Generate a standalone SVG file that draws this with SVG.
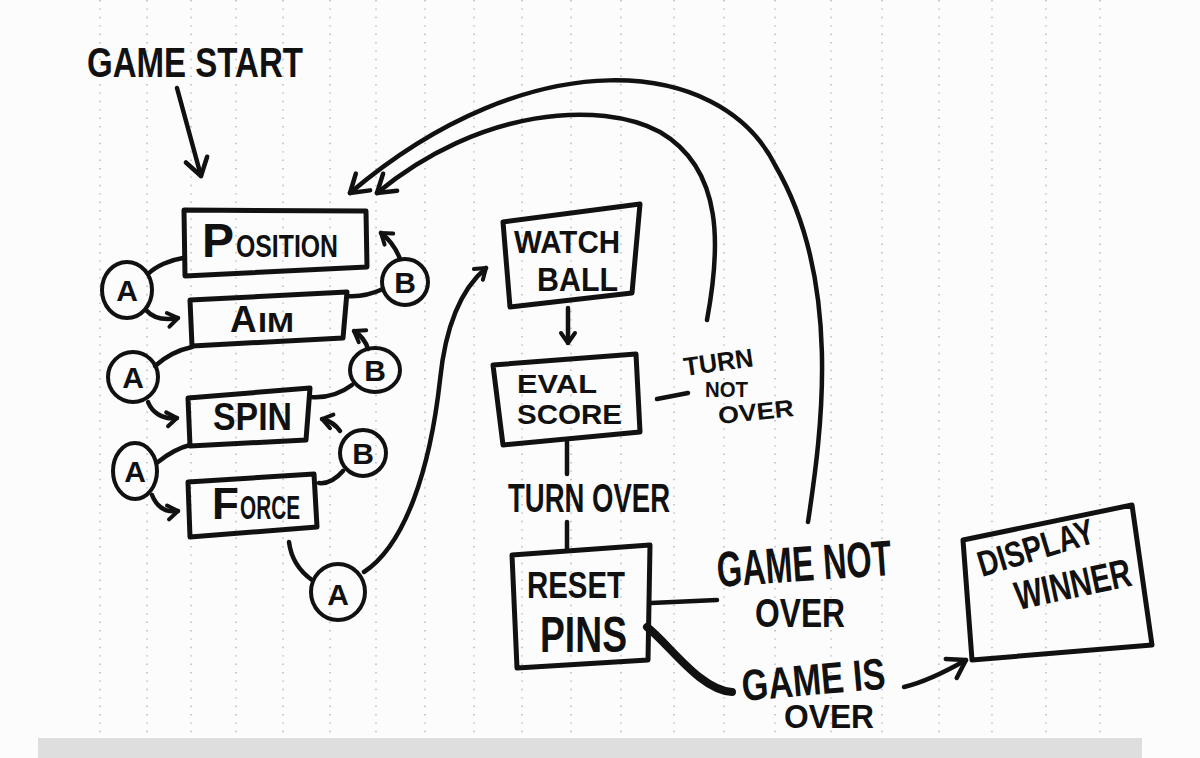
<svg xmlns="http://www.w3.org/2000/svg" width="1200" height="758" viewBox="0 0 1200 758">
<style>
.ln{fill:none;stroke:#111;stroke-width:4.5;stroke-linecap:round;stroke-linejoin:round}
.bx{fill:none;stroke:#111;stroke-width:5;stroke-linecap:round;stroke-linejoin:round}
.cc{fill:none;stroke:#111;stroke-width:4}
.t{font-family:"Liberation Sans",Arial,sans-serif;font-weight:bold;fill:#111}
.tc{font-family:"Liberation Sans",Arial,sans-serif;font-weight:bold;fill:#111;text-anchor:middle;font-size:30px}
.dot{stroke:#b5b5b5;stroke-width:1.4;stroke-dasharray:1.4 7}
</style>
<defs>
<marker id="big" markerUnits="userSpaceOnUse" viewBox="-20 -14 24 28" refX="0" refY="0" markerWidth="24" markerHeight="28" orient="auto">
<path d="M-17 -11 L0 0 L-17 11" fill="none" stroke="#111" stroke-width="4.5" stroke-linecap="round" stroke-linejoin="round"/>
</marker>
<marker id="sm" markerUnits="userSpaceOnUse" viewBox="-14 -10 18 20" refX="0" refY="0" markerWidth="18" markerHeight="20" orient="auto">
<path d="M-10 -7 L0 0 L-10 7" fill="none" stroke="#111" stroke-width="4" stroke-linecap="round" stroke-linejoin="round"/>
</marker>
</defs>
<rect width="1200" height="758" fill="#fcfcfc"/>
<g id="paper">
<line class="dot" x1="100" y1="0" x2="100" y2="738"/>
<line class="dot" x1="147" y1="0" x2="147" y2="738"/>
<line class="dot" x1="191" y1="0" x2="191" y2="738"/>
<line class="dot" x1="236" y1="0" x2="236" y2="738"/>
<line class="dot" x1="283" y1="0" x2="283" y2="738"/>
<line class="dot" x1="330" y1="0" x2="330" y2="738"/>
<line class="dot" x1="376" y1="0" x2="376" y2="738"/>
<line class="dot" x1="425" y1="0" x2="425" y2="738"/>
<line class="dot" x1="474" y1="0" x2="474" y2="738"/>
<line class="dot" x1="522" y1="0" x2="522" y2="738"/>
<line class="dot" x1="571" y1="0" x2="571" y2="738"/>
<line class="dot" x1="621" y1="0" x2="621" y2="738"/>
<line class="dot" x1="674" y1="0" x2="674" y2="738"/>
<line class="dot" x1="724" y1="0" x2="724" y2="738"/>
<line class="dot" x1="775" y1="0" x2="775" y2="738"/>
<line class="dot" x1="831" y1="0" x2="831" y2="738"/>
<line class="dot" x1="882" y1="0" x2="882" y2="738"/>
<line class="dot" x1="939" y1="0" x2="939" y2="738"/>
<line class="dot" x1="992" y1="0" x2="992" y2="738"/>
<line class="dot" x1="1046" y1="0" x2="1046" y2="738"/>
<line class="dot" x1="1100" y1="0" x2="1100" y2="738"/>
<rect x="38" y="738" width="1104" height="20" fill="#dedede"/>
</g>
<g id="connectors">
<path class="ln" d="M177 88 L201 176" marker-end="url(#big)"/>
<path class="ln" d="M183 258 C170 260 156 266 148 274"/>
<path class="ln" d="M146 310 C152 317 162 321 178 318" marker-end="url(#sm)"/>
<path class="ln" d="M347 296 C360 297 372 294 383 289"/>
<path class="ln" d="M400 259 C396 248 390 240 381 233" marker-end="url(#sm)"/>
<path class="ln" d="M192 347 C178 350 165 357 155 366"/>
<path class="ln" d="M148 402 C152 412 162 420 177 418" marker-end="url(#sm)"/>
<path class="ln" d="M311 397 C325 398 340 394 352 385"/>
<path class="ln" d="M368 349 C366 342 362 336 354 331" marker-end="url(#sm)"/>
<path class="ln" d="M190 445 C178 448 168 454 158 462"/>
<path class="ln" d="M152 495 C156 505 164 513 178 511" marker-end="url(#sm)"/>
<path class="ln" d="M319 483 C328 484 336 479 343 471"/>
<path class="ln" d="M340 431 C336 425 330 421 322 419" marker-end="url(#sm)"/>
<path class="ln" d="M289 542 C291 558 298 570 312 580"/>
<path class="ln" d="M364 572 C405 545 430 470 440 380 C445 330 460 290 486 268" marker-end="url(#sm)"/>
<path class="ln" d="M568 308 L568 343" marker-end="url(#sm)"/>
<path class="ln" d="M657 399 L688 393"/>
<path class="ln" d="M567 442 L567 474"/>
<path class="ln" d="M567 522 L567 549"/>
<path class="ln" d="M651 603 L717 600"/>
<path class="ln" d="M647 627 C670 645 700 690 732 692" style="stroke-width:8"/>
<path class="ln" d="M904 687 C925 682 945 672 966 660" marker-end="url(#big)"/>
<path class="ln" d="M707 320 C720 250 725 170 660 132 C600 100 480 108 377 193" marker-end="url(#big)"/>
<path class="ln" d="M808 522 C822 430 842 280 775 165 C720 55 530 40 350 193" marker-end="url(#big)"/>
</g>
<g id="game-start"><text class="t" x="87" y="77" font-size="42" textLength="216" lengthAdjust="spacingAndGlyphs">GAME START</text></g>
<g id="position">
<path class="bx" d="M184 210 L366 211 L367 267 L185 276 Z"/>
<text class="t" x="202" y="257" font-size="48">P</text>
<text class="t" x="236" y="257" font-size="31" textLength="102" lengthAdjust="spacingAndGlyphs">OSITION</text>
</g>
<g id="aim">
<path class="bx" d="M190 300 L347 292 L343 338 L192 346 Z"/>
<text class="t" x="230" y="332" font-size="37">A</text>
<text class="t" x="258" y="332" font-size="28" textLength="36" lengthAdjust="spacingAndGlyphs">IM</text>
</g>
<g id="spin">
<path class="bx" d="M188 398 L310 388 L306 440 L190 446 Z"/>
<text class="t" x="213" y="430" font-size="38" textLength="79" lengthAdjust="spacingAndGlyphs">SPIN</text>
</g>
<g id="force">
<path class="bx" d="M188 482 L314 474 L317 527 L190 537 Z"/>
<text class="t" x="212" y="519" font-size="44">F</text>
<text class="t" x="240" y="519" font-size="34" textLength="60" lengthAdjust="spacingAndGlyphs">ORCE</text>
</g>
<g id="a1"><ellipse class="cc" cx="127" cy="290" rx="25" ry="28"/><text class="tc" x="127" y="301">A</text></g>
<g id="b1"><ellipse class="cc" cx="405" cy="282" rx="23" ry="23"/><text class="tc" x="405" y="293">B</text></g>
<g id="a2"><ellipse class="cc" cx="133" cy="377" rx="25" ry="25"/><text class="tc" x="133" y="388">A</text></g>
<g id="b2"><ellipse class="cc" cx="375" cy="370" rx="25" ry="22"/><text class="tc" x="375" y="381">B</text></g>
<g id="a3"><ellipse class="cc" cx="135" cy="471" rx="22" ry="28"/><text class="tc" x="135" y="482">A</text></g>
<g id="b3"><ellipse class="cc" cx="363" cy="453" rx="23" ry="23"/><text class="tc" x="363" y="464">B</text></g>
<g id="a4"><ellipse class="cc" cx="338" cy="592" rx="27" ry="28"/><text class="tc" x="338" y="605" font-size="36">A</text></g>
<g id="watch-ball">
<path class="bx" d="M503 222 L640 204 L632 293 L510 307 Z"/>
<text class="t" x="514" y="253" font-size="32" textLength="106" lengthAdjust="spacingAndGlyphs">WATCH</text>
<text class="t" x="537" y="291" font-size="34" textLength="81" lengthAdjust="spacingAndGlyphs">BALL</text>
</g>
<g id="eval-score">
<path class="bx" d="M493 365 L636 354 L640 432 L503 445 Z"/>
<text class="t" x="517" y="393" font-size="26" textLength="80" lengthAdjust="spacingAndGlyphs">EVAL</text>
<text class="t" x="517" y="424" font-size="28" textLength="105" lengthAdjust="spacingAndGlyphs">SCORE</text>
</g>
<g id="turn-not-over">
<text class="t" x="685" y="376" font-size="26" textLength="70" lengthAdjust="spacingAndGlyphs" transform="rotate(-8 685 376)">TURN</text>
<text class="t" x="705" y="397" font-size="22" textLength="43" lengthAdjust="spacingAndGlyphs">NOT</text>
<text class="t" x="719" y="424" font-size="24" textLength="76" lengthAdjust="spacingAndGlyphs" transform="rotate(-6 719 424)">OVER</text>
</g>
<g id="turn-over"><text class="t" x="508" y="512" font-size="40" textLength="162" lengthAdjust="spacingAndGlyphs">TURN OVER</text></g>
<g id="reset-pins">
<path class="bx" d="M512 555 L650 545 L648 660 L517 668 Z"/>
<text class="t" x="527" y="598" font-size="36" textLength="98" lengthAdjust="spacingAndGlyphs">RESET</text>
<text class="t" x="540" y="652" font-size="50" textLength="87" lengthAdjust="spacingAndGlyphs">PINS</text>
</g>
<g id="game-not-over">
<text class="t" x="718" y="587" font-size="50" textLength="175" lengthAdjust="spacingAndGlyphs" transform="rotate(-4 718 587)">GAME NOT</text>
<text class="t" x="755" y="627" font-size="40" textLength="90" lengthAdjust="spacingAndGlyphs">OVER</text>
</g>
<g id="game-is-over">
<text class="t" x="743" y="701" font-size="44" textLength="144" lengthAdjust="spacingAndGlyphs" transform="rotate(-5 743 701)">GAME IS</text>
<text class="t" x="784" y="728" font-size="34" textLength="90" lengthAdjust="spacingAndGlyphs">OVER</text>
</g>
<g id="display-winner">
<path class="bx" d="M963 540 L1132 505 L1152 645 L972 660 Z"/>
<text class="t" x="982" y="577" font-size="36" textLength="120" lengthAdjust="spacingAndGlyphs" transform="rotate(-17 982 577)">DISPLAY</text>
<text class="t" x="1018" y="610" font-size="40" textLength="118" lengthAdjust="spacingAndGlyphs" transform="rotate(-12 1018 610)">WINNER</text>
</g>
</svg>
